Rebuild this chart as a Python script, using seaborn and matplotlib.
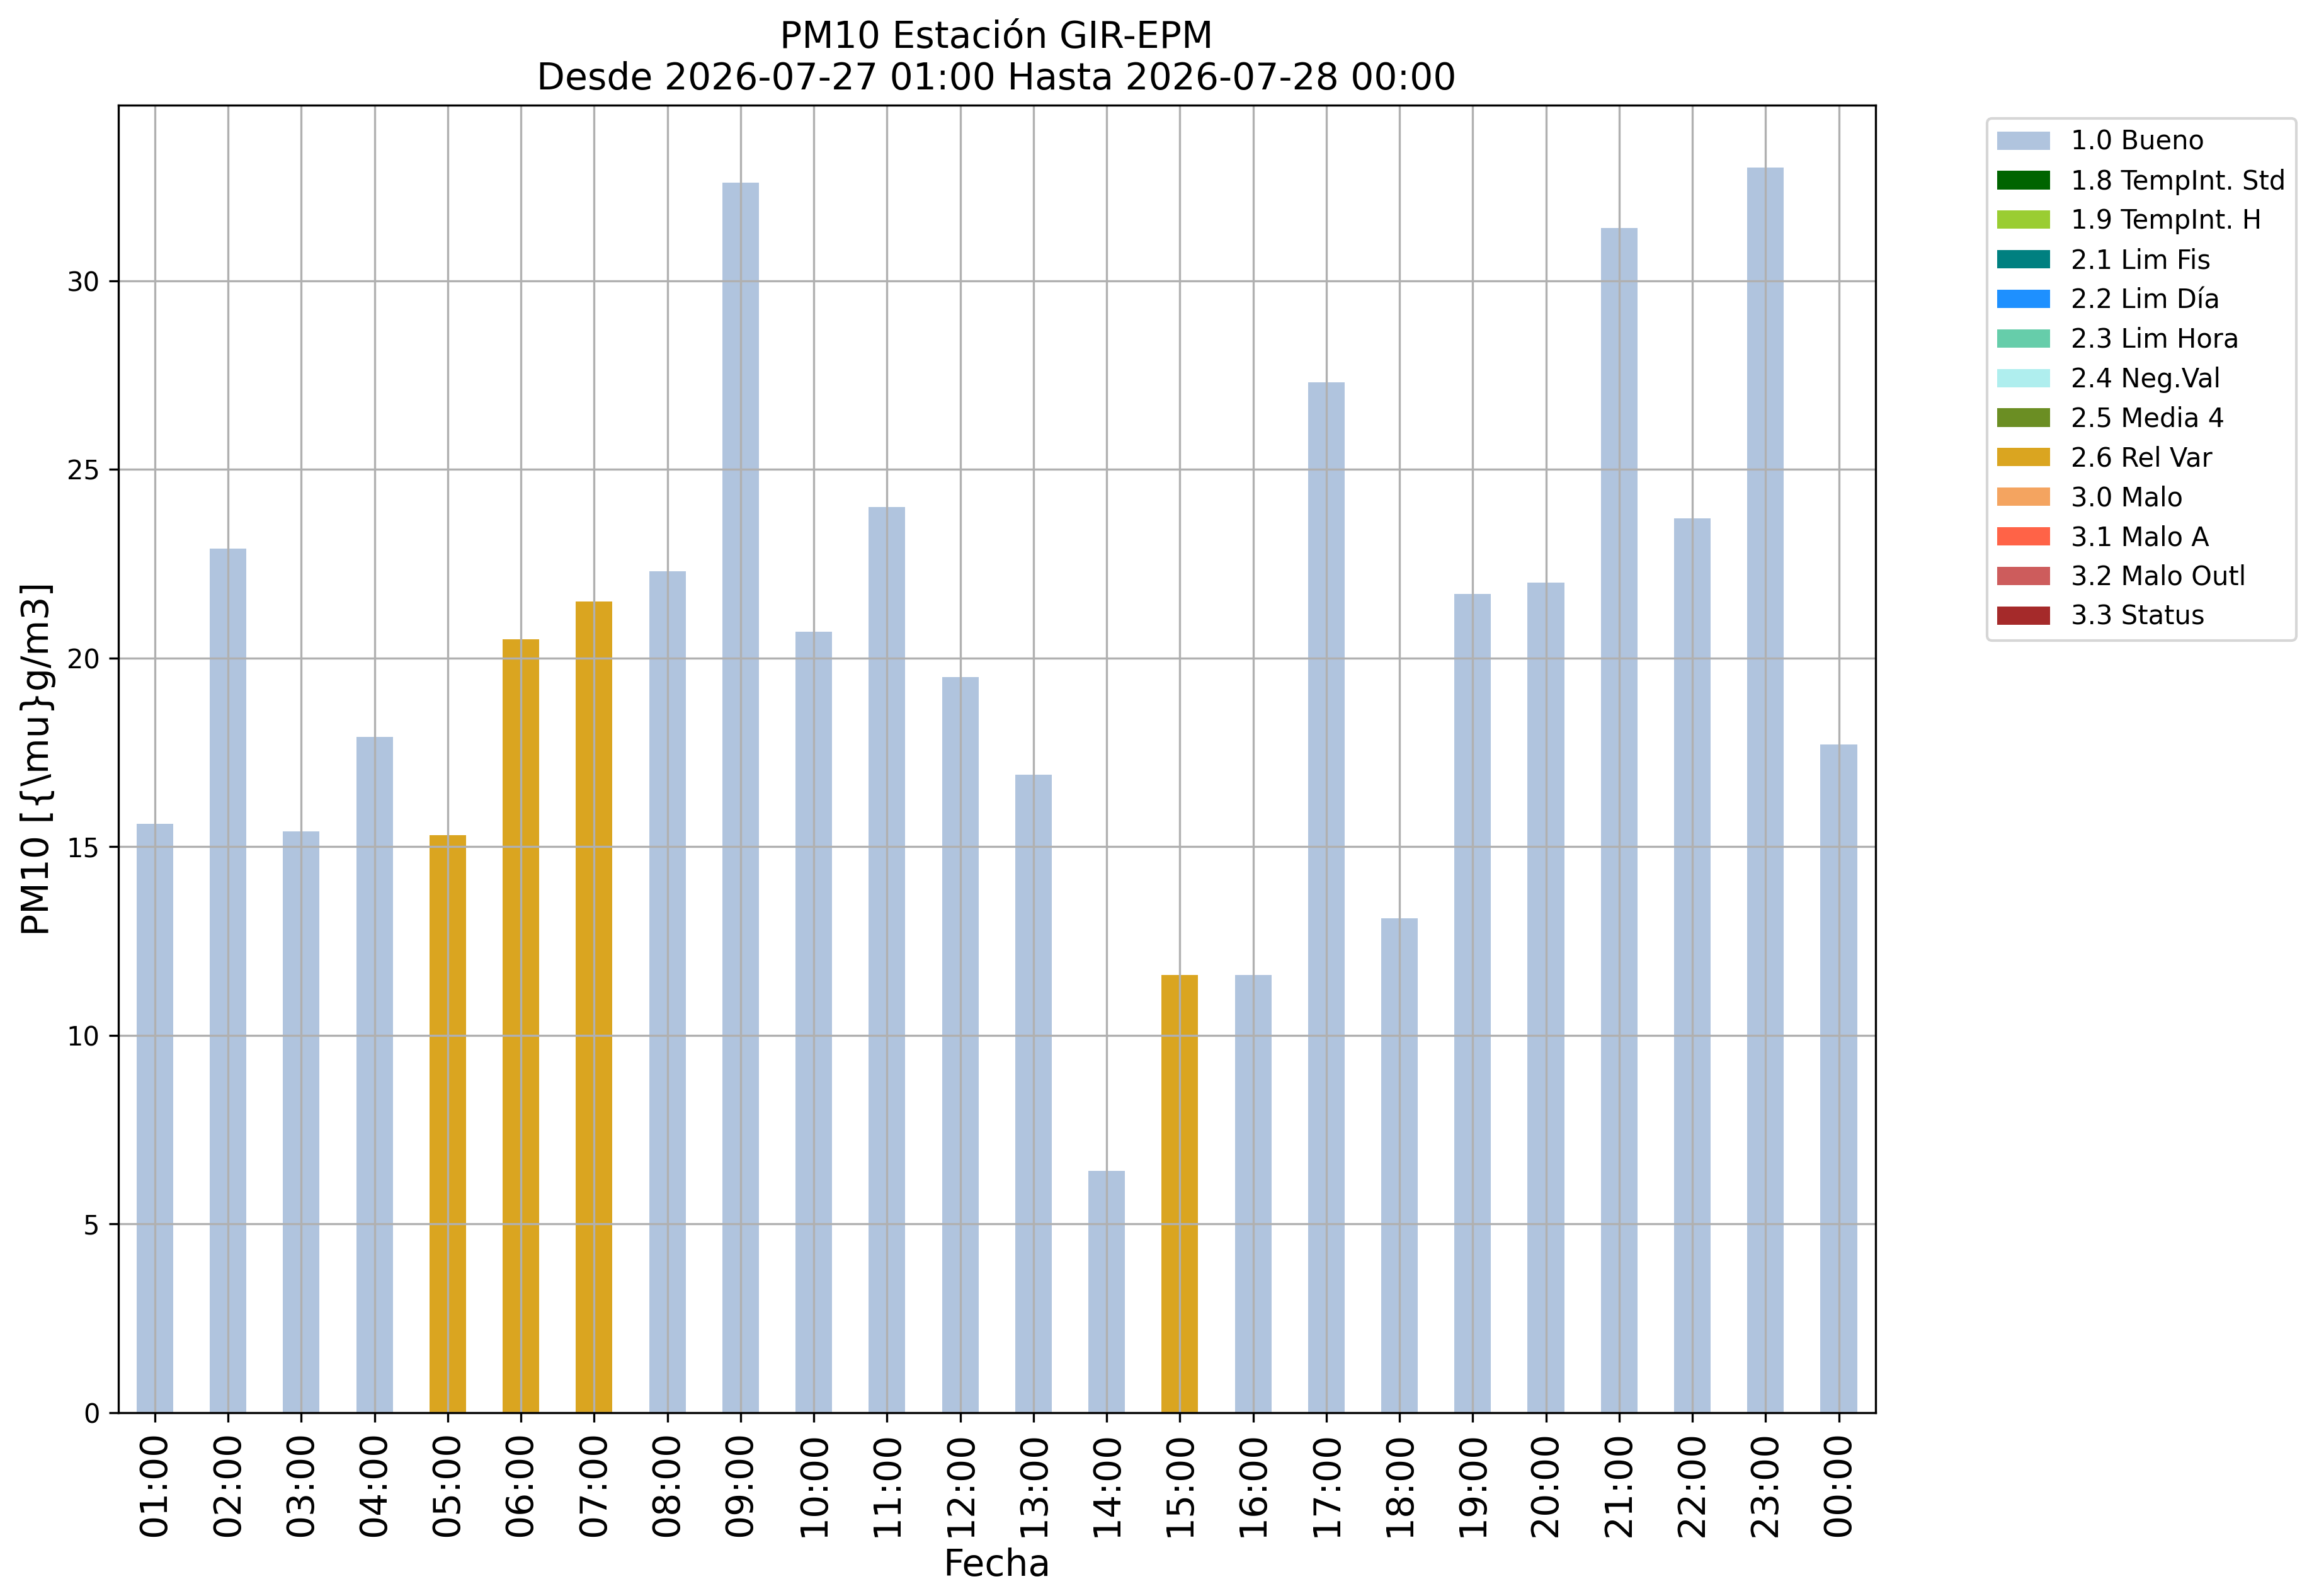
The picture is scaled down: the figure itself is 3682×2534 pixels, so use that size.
import pandas as pd
import matplotlib
matplotlib.use('Agg')
import matplotlib.pyplot as plt
import seaborn as sns
from matplotlib.patches import Patch

# Datos: PM10 horario y bandera de calidad
horas = ['01:00', '02:00', '03:00', '04:00', '05:00', '06:00', '07:00', '08:00',
         '09:00', '10:00', '11:00', '12:00', '13:00', '14:00', '15:00', '16:00',
         '17:00', '18:00', '19:00', '20:00', '21:00', '22:00', '23:00', '00:00']
pm10 = [15.6, 22.9, 15.4, 17.9, 15.3, 20.5, 21.5, 22.3,
        32.6, 20.7, 24.0, 19.5, 16.9, 6.4, 11.6, 11.6,
        27.3, 13.1, 21.7, 22.0, 31.4, 23.7, 33.0, 17.7]
bandera = ['1.0 Bueno', '1.0 Bueno', '1.0 Bueno', '1.0 Bueno', '2.6 Rel Var', '2.6 Rel Var',
           '2.6 Rel Var', '1.0 Bueno', '1.0 Bueno', '1.0 Bueno', '1.0 Bueno', '1.0 Bueno',
           '1.0 Bueno', '1.0 Bueno', '2.6 Rel Var', '1.0 Bueno', '1.0 Bueno', '1.0 Bueno',
           '1.0 Bueno', '1.0 Bueno', '1.0 Bueno', '1.0 Bueno', '1.0 Bueno', '1.0 Bueno']

# Categorias de la bandera y sus colores
categorias = ['1.0 Bueno', '1.8 TempInt. Std', '1.9 TempInt. H', '2.1 Lim Fis', '2.2 Lim Día',
              '2.3 Lim Hora', '2.4 Neg.Val', '2.5 Media 4', '2.6 Rel Var', '3.0 Malo',
              '3.1 Malo A', '3.2 Malo Outl', '3.3 Status']
colores = ['lightsteelblue', 'darkgreen', 'yellowgreen', 'teal', 'dodgerblue',
           'mediumaquamarine', 'paleturquoise', 'olivedrab', 'goldenrod', 'sandybrown',
           'tomato', 'indianred', 'brown']

df = pd.DataFrame({'Fecha': horas, 'PM10': pm10, 'Bandera': bandera})
paleta = dict(zip(categorias, colores))

fig, ax = plt.subplots(figsize=(3682 / 300, 2534 / 300), dpi=300)
fig.subplots_adjust(left=0.051, right=0.8087, top=0.934, bottom=0.115)

sns.barplot(data=df, x='Fecha', y='PM10', hue='Bandera', hue_order=categorias,
            order=horas, palette=paleta, dodge=False, width=0.5, linewidth=0,
            errorbar=None, saturation=1, legend=False, ax=ax)

ax.grid(True)
ax.set_xlim(-0.5, len(horas) - 0.5)
ax.set_title('PM10 Estación GIR-EPM\nDesde 2026-07-27 01:00 Hasta 2026-07-28 00:00', fontsize=14)
ax.set_xlabel('Fecha', fontsize=14)
ax.set_ylabel('PM10 [{\\mu}g/m3]', fontsize=14)
plt.xticks(rotation=90, fontsize=14)

handles = [Patch(facecolor=c, edgecolor='none', label=l) for l, c in zip(categorias, colores)]
ax.legend(handles=handles, bbox_to_anchor=(1.056, 1), loc='upper left')

fig.savefig('out.png', dpi=300)
